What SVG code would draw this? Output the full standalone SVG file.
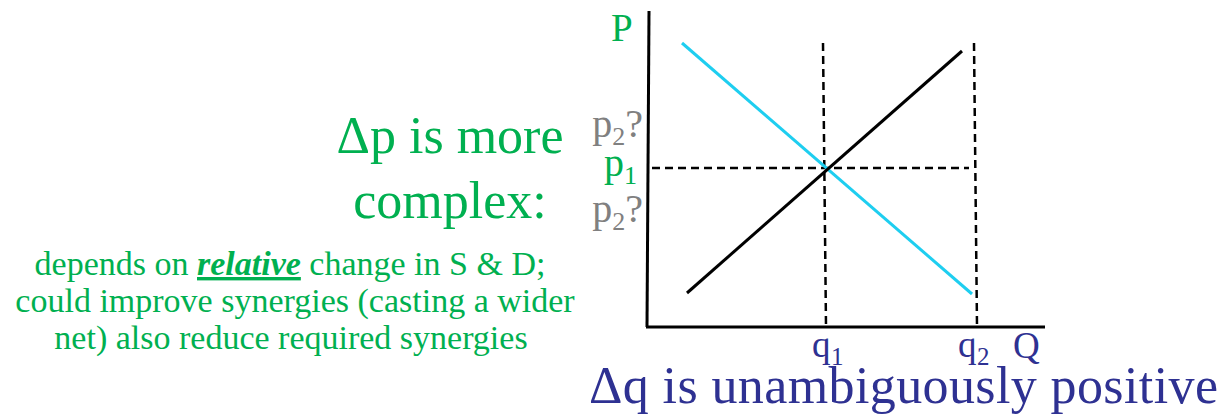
<svg xmlns="http://www.w3.org/2000/svg" width="1223" height="417" viewBox="0 0 1223 417">
<style>
.t{font-family:"Liberation Serif","Times New Roman",serif}
.g{fill:#00B050}
.gr{fill:#808080}
.n{fill:#2E3192}
.axis{stroke:#000;stroke-width:3;fill:none}
.dash{stroke:#000;stroke-width:2.5;stroke-dasharray:8 5;fill:none}
.supply{stroke:#000;stroke-width:3;fill:none}
.demand{stroke:#1ECEF0;stroke-width:3;fill:none}
</style>
<rect width="1223" height="417" fill="#fff"/>
<g id="connectors">
<line class="axis" x1="649" y1="11" x2="647" y2="327"/>
<line class="axis" x1="646" y1="327" x2="1045" y2="327"/>
<line class="dash" x1="823" y1="43" x2="826" y2="326"/>
<line class="dash" x1="974" y1="43" x2="977" y2="326"/>
<line class="dash" x1="652" y1="168" x2="969" y2="168"/>
<line class="demand" x1="682" y1="43" x2="972" y2="294"/>
<line class="supply" x1="687" y1="293" x2="962" y2="51"/>
</g>
<g id="axis-labels" class="t">
<text x="611" y="41" font-size="39" class="g">P</text>
<text x="1013" y="358" font-size="37" class="n">Q</text>
<text x="812" y="357" font-size="37" class="n">q</text>
<text x="831" y="365" font-size="25" class="n">1</text>
<text x="958" y="357" font-size="37" class="n">q</text>
<text x="977" y="365" font-size="25" class="n">2</text>
</g>
<g id="price-labels" class="t" font-size="40">
<text x="643" y="137" text-anchor="end" class="gr">p<tspan font-size="26" dy="8">2</tspan><tspan dy="-8">?</tspan></text>
<text x="637" y="176" text-anchor="end" class="g">p<tspan font-size="26" dy="8">1</tspan></text>
<text x="643" y="222" text-anchor="end" class="gr">p<tspan font-size="26" dy="8">2</tspan><tspan dy="-8">?</tspan></text>
</g>
<g id="dp-heading" class="t g" font-size="52" text-anchor="middle">
<text x="450" y="153">Δp is more</text>
<text x="450" y="218">complex:</text>
</g>
<g id="dp-note" class="t g" font-size="34" text-anchor="middle">
<text x="290" y="275">depends on <tspan font-weight="bold" font-style="italic" text-decoration="underline">relative</tspan> change in S &amp; D;</text>
<text x="295" y="312">could improve synergies (casting a wider</text>
<text x="291" y="349">net) also reduce required synergies</text>
</g>
<g id="dq-heading" class="t n" font-size="52">
<text x="589" y="403" textLength="629">Δq is unambiguously positive</text>
</g>
</svg>
